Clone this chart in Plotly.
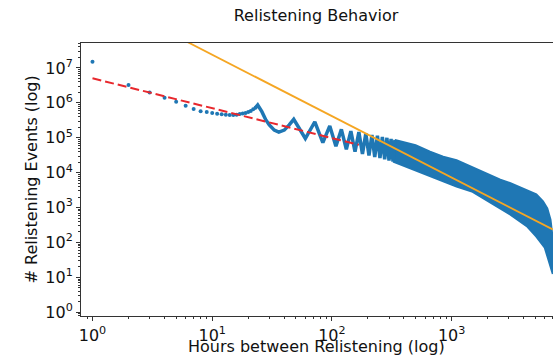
import plotly.graph_objects as go

# ---- data ----
hours_early = list(range(1, 24))
counts_early = [1.51e7, 3.24e6, 2.0e6, 1.41e6, 1.07e6, 8.3e5, 6.7e5, 5.8e5,
                5.48e5, 5.13e5, 4.91e5, 4.70e5, 4.60e5, 4.50e5, 4.50e5, 4.60e5,
                4.81e5, 5.0e5, 5.13e5, 5.48e5, 5.86e5, 6.55e5, 7.31e5]

# daily oscillation (peaks at multiples of 24 h, troughs in between)
osc_hours = [23, 24, 26, 28, 30, 33, 36, 40, 44, 48, 60, 72, 84, 96, 108, 120,
             132, 144, 156, 168, 180, 192, 204, 216, 228, 240, 252, 264, 276,
             288, 300, 312, 324, 336]
osc_counts = [7.31e5, 8.71e5, 5.62e5, 3.31e5, 2.34e5, 1.66e5, 1.45e5, 1.66e5,
              2.34e5, 3.39e5, 9.55e4, 2.88e5, 7.24e4, 2.19e5, 5.75e4, 1.74e5,
              4.68e4, 1.55e5, 3.98e4, 1.45e5, 3.47e4, 1.32e5, 3.09e4, 1.20e5,
              2.82e4, 1.15e5, 2.63e4, 1.05e5, 2.40e4, 1.00e5, 2.24e4, 9.33e4,
              2.09e4, 8.71e4]

# dense tail: upper and lower envelope of the scattered points
band_upper_hours = [336, 500, 660, 850, 1100, 1500, 2100, 2550, 3100, 3700,
                    4300, 5100, 5800, 6300, 6700, 7000]
band_upper_counts = [8.71e4, 6.17e4, 3.98e4, 2.88e4, 2.29e4, 1.45e4, 8.51e3,
                     6.31e3, 5.01e3, 3.80e3, 3.09e3, 2.40e3, 1.51e3, 955, 447, 126]
band_lower_hours = [324, 580, 1100, 1500, 2100, 3100, 4300, 5100, 6000, 6600, 7000]
band_lower_counts = [2.09e4, 9.55e3, 3.98e3, 2.82e3, 1.41e3, 631, 282, 148,
                     70.8, 25.1, 12.6]

# fitted power laws
red_fit_hours = [1, 168]
red_fit_counts = [5.07e6, 6.28e4]
orange_fit_hours = [1, 7000]
orange_fit_counts = [1.38e9, 238]

x_tick_vals = [1, 10, 100, 1000]
x_tick_text = ["10<sup>0</sup>", "10<sup>1</sup>", "10<sup>2</sup>", "10<sup>3</sup>"]
y_tick_vals = [1, 10, 100, 1e3, 1e4, 1e5, 1e6, 1e7]
y_tick_text = ["10<sup>%d</sup>" % i for i in range(8)]

BLUE = "#1f77b4"
FONT = "DejaVu Sans"

fig = go.Figure()

fig.add_trace(go.Scatter(
    x=band_upper_hours + band_lower_hours[::-1],
    y=band_upper_counts + band_lower_counts[::-1],
    mode="lines", fill="toself", fillcolor=BLUE,
    line=dict(color=BLUE, width=2), hoverinfo="skip", showlegend=False))
fig.add_trace(go.Scatter(
    x=osc_hours, y=osc_counts, mode="lines",
    line=dict(color=BLUE, width=3.5), showlegend=False))
fig.add_trace(go.Scatter(
    x=hours_early, y=counts_early, mode="markers",
    marker=dict(color=BLUE, size=4), showlegend=False))
fig.add_trace(go.Scatter(
    x=red_fit_hours, y=red_fit_counts, mode="lines",
    line=dict(color="rgb(232,40,45)", width=2, dash="9px,4px"), showlegend=False))
fig.add_trace(go.Scatter(
    x=orange_fit_hours, y=orange_fit_counts, mode="lines",
    line=dict(color="#f5a623", width=1.8), showlegend=False))

minor_x = [m * 10 ** e for e in range(-1, 4) for m in range(2, 10)]
minor_y = [m * 10 ** e for e in range(-1, 8) for m in range(2, 10)]

axis_common = dict(
    type="log", showgrid=False, zeroline=False, showline=True,
    linecolor="#333", linewidth=1, ticks="outside", ticklen=4, tickwidth=1,
    tickcolor="#333", tickfont=dict(family=FONT, size=16, color="#111"),
)

fig.update_xaxes(
    **axis_common, range=[-0.096, 3.847], mirror=True,
    tickmode="array", tickvals=x_tick_vals, ticktext=x_tick_text,
    ticklabelstandoff=1,
    minor=dict(tickmode="array", tickvals=minor_x, ticks="outside", ticklen=2,
               tickcolor="#333", showgrid=False))
fig.update_yaxes(
    **axis_common, range=[-0.106, 7.716], mirror=False,
    tickmode="array", tickvals=y_tick_vals, ticktext=y_tick_text,
    minor=dict(tickmode="array", tickvals=minor_y, ticks="outside", ticklen=2,
               tickcolor="#333", showgrid=False))

PLOT_L, PLOT_R, PLOT_T, PLOT_B = 81, 553, 43, 316
fig.add_annotation(
    text="Hours between Relistening (log)", xref="paper", yref="paper",
    x=(316 - PLOT_L) / (PLOT_R - PLOT_L), y=(PLOT_B - 346) / (PLOT_B - PLOT_T),
    xanchor="center", yanchor="middle", showarrow=False,
    font=dict(family=FONT, size=16, color="#111"))
fig.add_annotation(
    text="# Relistening Events (log)", xref="paper", yref="paper",
    x=(31 - PLOT_L) / (PLOT_R - PLOT_L), y=0.5, textangle=-90,
    xanchor="center", yanchor="middle", showarrow=False,
    font=dict(family=FONT, size=16, color="#111"))

fig.update_layout(
    width=554, height=358,
    margin=dict(l=PLOT_L, r=554 - PLOT_R, t=PLOT_T, b=358 - PLOT_B),
    paper_bgcolor="white", plot_bgcolor="white",
    title=dict(text="Relistening Behavior", x=316 / 554, xref="container",
               xanchor="center", y=1 - 15 / 358, yref="container",
               yanchor="middle", font=dict(family=FONT, size=16, color="#111")),
    showlegend=False,
)

fig.write_html("out.html", config={"displayModeBar": False})
